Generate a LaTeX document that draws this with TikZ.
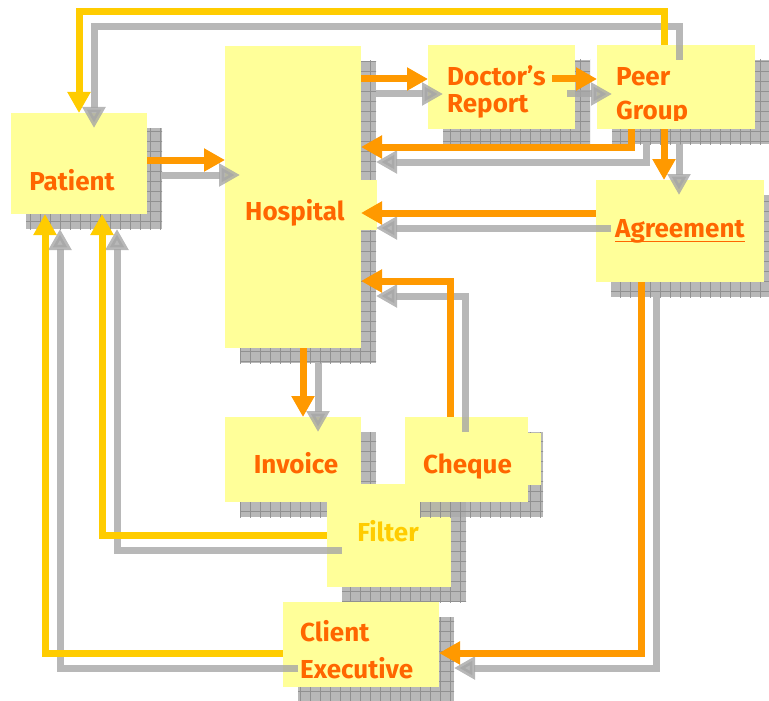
\documentclass[tikz,border=0pt]{standalone}
\usepackage{fontspec}
\setmainfont{Fira Sans}
\usetikzlibrary{arrows.meta,shadows,patterns.meta}

\definecolor{boxyellow}{HTML}{FFFF99}
\definecolor{labelorange}{HTML}{FF6600}
\definecolor{arroworange}{HTML}{FF9900}
\definecolor{arrowyellow}{HTML}{FFCC00}
\definecolor{shadowgray}{HTML}{ABABAB}
\definecolor{gridgray}{HTML}{8A8A8A}
\definecolor{linegray}{HTML}{A6A6A6}

\begin{document}
\begin{tikzpicture}[x=1pt,y=-1pt,
    box/.style={fill=boxyellow, inner sep=0pt, outer sep=0pt,
      drop shadow={shadow xshift=15pt, shadow yshift=-15pt, opacity=.85, fill=shadowgray,
        postaction={pattern={Hatch[distance=10pt, line width=.6pt]}, pattern color=gridgray}}},
    tab/.style={fill=boxyellow, inner sep=0pt, outer sep=0pt},
    txt/.style={inner sep=0pt, text=labelorange, font=\bfseries\fontsize{26}{30}\selectfont},
    flow/.style={line width=7pt, -{Triangle[length=21pt,width=22pt]},
      preaction={draw=linegray, line width=7pt, opacity=.8, transform canvas={shift={(15pt,-15pt)}}}},
    orangeflow/.style={flow, draw=arroworange},
    yellowflow/.style={flow, draw=arrowyellow}]
    % Fix the page size
    \useasboundingbox (0,0) rectangle (769,701);

    % Boxes
    \node[box, minimum width=136, minimum height=101] (patient) at (79,163.5) {};
    \node[box, minimum width=136, minimum height=302] (hospital) at (293,197) {};
    \node[tab, minimum width=152, minimum height=50] (hospital-tab) at (301,205) {};
    \node[box, minimum width=147, minimum height=84] (doctor) at (501.5,87) {};
    \node[box, minimum width=158, minimum height=84] (peer) at (676,87) {};
    \node[box, minimum width=168, minimum height=102] (agreement) at (680,231) {};
    \node[box, minimum width=136, minimum height=85] (invoice) at (293,459.5) {};
    \node[box, minimum width=124, minimum height=103] (filter) at (389,535.5) {};
    \node[box, minimum width=123, minimum height=85] (cheque) at (466.5,459.5) {};
    \node[tab, minimum width=121, minimum height=52] (cheque-tab) at (480.5,459) {};
    \node[box, minimum width=156, minimum height=85] (client) at (361,644.5) {};

    % Labels (base of a two-line label is its last line)
    \node[txt, anchor=base] (patient-txt) at (72,190) {Patient};
    \node[txt, anchor=base west] (hospital-txt) at (245,220) {Hospital};
    \node[txt, anchor=base west, align=left, font=\bfseries\fontsize{26}{28}\selectfont]
      (doctor-txt) at (447,113) {Doctor’s\\Report};
    \begin{scope}
      \clip (peer.north west) rectangle ([yshift=9pt]peer.south east);
      \node[txt, anchor=base west, align=left, font=\bfseries\fontsize{26}{35}\selectfont]
        (peer-txt) at (616,120) {Peer\\Group};
    \end{scope}
    \node[txt, anchor=base west] (agreement-txt) at (615,237) {Agreement};
    \draw[labelorange, line width=1.8pt] ([yshift=-4.5pt]agreement-txt.base west)
      -- ([yshift=-4.5pt]agreement-txt.base east);
    \node[txt, anchor=base] (invoice-txt) at (296,473) {Invoice};
    \node[txt, anchor=base] (cheque-txt) at (467.5,473) {Cheque};
    \node[txt, anchor=base, text=arrowyellow] (filter-txt) at (388,541) {Filter};
    \node[txt, anchor=base west, align=left, font=\bfseries\fontsize{26}{37}\selectfont]
      (client-txt) at (300,678) {Client\\Executive};

    % Orange flows
    \draw[orangeflow] ([yshift=3.5pt]patient.east) -- ([yshift=3.5pt]patient.east -| hospital.west);
    \draw[orangeflow] ([yshift=8pt]doctor.west -| hospital.east) -- ([yshift=8pt]doctor.west);
    \draw[orangeflow] ([xshift=-23pt,yshift=8pt]doctor.east) -- ([yshift=8pt]peer.west);
    \draw[orangeflow] ([xshift=-45pt]peer.south) |- ([yshift=50pt]hospital.east);
    \draw[orangeflow] ([xshift=-12pt]peer.south) -- ([xshift=-12pt]peer.south |- agreement.north);
    \draw[orangeflow] ([yshift=18pt]agreement.west) -- ([yshift=18pt]agreement.west -| hospital.east);
    \draw[orangeflow] ([xshift=-16.5pt]cheque.north) |- ([yshift=-84pt]hospital.east);
    \draw[orangeflow] ([xshift=10pt]hospital.south) -- ([xshift=10pt]invoice.north);
    \draw[orangeflow] ([xshift=-39pt]agreement.south) |- ([yshift=-8.5pt]client.east);

    % Yellow flows
    \draw[yellowflow] ([xshift=-12pt]peer.north) -- ++(0,-33) -| (patient.north);
    \draw[yellowflow] ([yshift=-8.5pt]client.west) -| ([xshift=-34pt]patient.south);
    \draw[yellowflow] (filter.west) -| ([xshift=23pt]patient.south);
\end{tikzpicture}
\end{document}
